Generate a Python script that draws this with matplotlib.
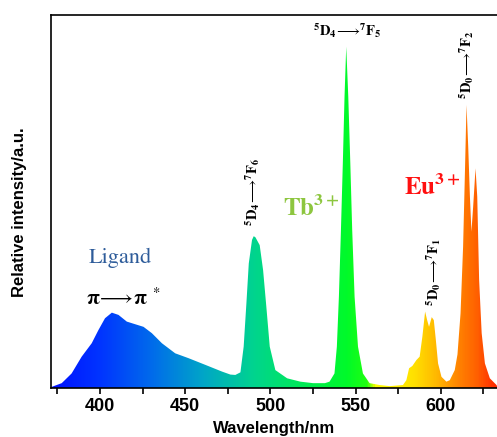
import matplotlib
matplotlib.use('Agg')
import matplotlib.pyplot as plt
import numpy as np
from matplotlib.colors import LinearSegmentedColormap
from matplotlib.patches import Polygon

plt.rcParams['mathtext.fontset'] = 'stix'

# emission spectrum
wavelength = [371.2, 371.6, 377.5, 383.3, 389.2, 395.1, 399.0, 402.9, 406.9, 410.8,
              415.7, 420.6, 425.5, 430.4, 436.3, 444.1, 451.9, 461.8, 471.6, 476.5,
              479.4, 482.4, 484.3, 485.9, 487.3, 489.2, 490.2, 491.2, 493.7, 495.7,
              497.6, 499.6, 502.9, 509.8, 517.6, 525.0, 532.0, 534.7, 537.6, 539.0,
              540.2, 541.4, 542.5, 543.5, 544.5, 545.7, 546.9, 548.0, 549.4, 551.4,
              554.3, 558.2, 564.1, 570.0, 577.8, 579.8, 581.4, 583.3, 585.7, 587.6,
              589.2, 590.8, 592.0, 593.1, 594.7, 595.9, 597.1, 598.4, 600.4, 603.3,
              605.3, 608.2, 609.8, 611.6, 613.1, 614.3, 615.1, 616.1, 617.1, 618.0,
              619.0, 620.4, 621.4, 622.5, 624.0, 625.9, 628.8, 632.7, 633.0]
intensity = [0.0, 0.003, 0.013, 0.039, 0.084, 0.12, 0.155, 0.187, 0.202, 0.196,
             0.178, 0.171, 0.164, 0.147, 0.12, 0.093, 0.08, 0.062, 0.044, 0.036,
             0.035, 0.042, 0.111, 0.227, 0.334, 0.397, 0.407, 0.404, 0.383, 0.316,
             0.218, 0.111, 0.048, 0.026, 0.017, 0.013, 0.013, 0.017, 0.039, 0.111,
             0.245, 0.424, 0.602, 0.781, 0.915, 0.781, 0.602, 0.424, 0.245, 0.111,
             0.039, 0.013, 0.008, 0.005, 0.008, 0.021, 0.053, 0.059, 0.075, 0.084,
             0.138, 0.205, 0.182, 0.164, 0.19, 0.182, 0.129, 0.066, 0.03, 0.017,
             0.021, 0.048, 0.09, 0.2, 0.379, 0.602, 0.759, 0.647, 0.513, 0.419,
             0.486, 0.589, 0.513, 0.29, 0.147, 0.066, 0.026, 0.008, 0.005]

x_ticks = [400, 450, 500, 550, 600]
x_min, x_max = 371.2, 633.0

# colour gradient along wavelength
stops = [(371, '#0010FF'), (400, '#0035FF'), (430, '#006BEB'), (460, '#00A5C8'),
         (490, '#00D48F'), (520, '#00EB55'), (545, '#00FA2A'), (557, '#20FF10'),
         (562, '#FFFF00'), (585, '#FFE000'), (598, '#FFB800'), (612, '#FF8000'),
         (622, '#FF6000'), (633, '#FF2800')]
cmap = LinearSegmentedColormap.from_list(
    'spec', [((w - 371) / (633 - 371), c) for w, c in stops])

fig = plt.figure(figsize=(4.97, 4.37), dpi=100)
ax = fig.add_axes([51 / 497, 49 / 437, 1 - 51 / 497, 373 / 437])

grad = np.linspace(x_min, x_max, 600).reshape(1, -1)
im = ax.imshow(grad, extent=[x_min, x_max, 0, 1], aspect='auto', cmap=cmap,
               vmin=371, vmax=633, origin='lower', zorder=1)
verts = list(zip(wavelength, intensity)) + [(x_max, 0), (x_min, 0)]
poly = Polygon(verts, closed=True, facecolor='none', edgecolor='none')
ax.add_patch(poly)
im.set_clip_path(poly)

ax.set_xlim(x_min, x_max)
ax.set_ylim(0, 1)
ax.set_yticks([])
ax.set_xticks(x_ticks)
ax.set_xticks([375, 425, 475, 525, 575, 625], minor=True)
ax.tick_params(axis='x', which='both', direction='out', length=4, width=1.2)
for lab in ax.get_xticklabels():
    lab.set_fontfamily('Liberation Sans')
    lab.set_fontweight('bold')
    lab.set_fontsize(13)
for s in ['left', 'top', 'bottom']:
    ax.spines[s].set_linewidth(1.2)
ax.spines['right'].set_visible(False)

ax.set_xlabel('Wavelength/nm', fontfamily='Liberation Sans', fontweight='bold',
              fontsize=12, labelpad=4)
fig.text(20 / 497, 1 - 212 / 437, 'Relative intensity/a.u.', rotation=90,
         fontfamily='Liberation Sans', fontweight='bold', fontsize=12,
         ha='center', va='center')

# annotations
ax.text(545.1, 0.957, r'$\mathbf{^5D_4}\!\longrightarrow\!\mathbf{^7F_5}$', fontsize=10.5,
        ha='center', va='center')
ax.text(489.4, 0.525, r'$\mathbf{^5D_4}\!\longrightarrow\!\mathbf{^7F_6}$', fontsize=10.5,
        ha='center', va='center', rotation=90)
ax.text(615.3, 0.866, r'$\mathbf{^5D_0}\!\longrightarrow\!\mathbf{^7F_2}$', fontsize=10.5,
        ha='center', va='center', rotation=90)
ax.text(595.9, 0.311, r'$\mathbf{^5D_0}\!\longrightarrow\!\mathbf{^7F_1}$', fontsize=10.5,
        ha='center', va='center', rotation=90)
ax.text(524.1, 0.483, r'$\mathbf{Tb^{3+}}$', fontsize=18, color='#8DC63F',
        ha='center', va='center')
ax.text(594.7, 0.539, r'$\mathbf{Eu^{3+}}$', fontsize=18, color='#FF1010',
        ha='center', va='center')
ax.text(411.8, 0.349, 'Ligand', fontsize=16, color='#2E5C9A',
        fontfamily='STIXGeneral', ha='center', va='center')
ax.text(413.5, 0.241, 'π$\\!\\longrightarrow\\!$π$^{\\ *}$', fontsize=15,
        fontfamily='STIXGeneral', fontweight='bold', ha='center', va='center')

fig.savefig('out.png', dpi=100)
